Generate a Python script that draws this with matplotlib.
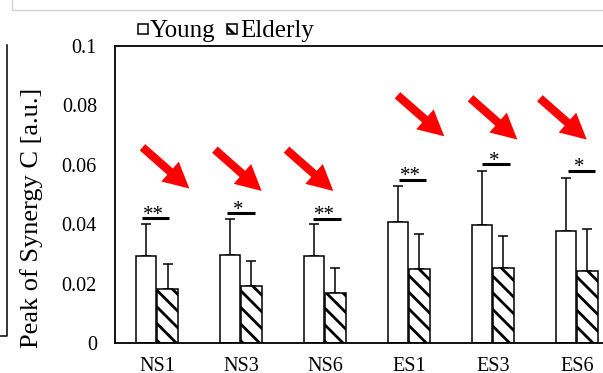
import numpy as np
import matplotlib
matplotlib.use('Agg')
import matplotlib.pyplot as plt
from matplotlib.patches import FancyArrowPatch, Rectangle
from matplotlib.lines import Line2D

plt.rcParams['font.family'] = ['Liberation Serif', 'DejaVu Serif']
plt.rcParams['hatch.linewidth'] = 2.0
plt.rcParams['hatch.color'] = 'black'

# data
conditions = ['NS1', 'NS3', 'NS6', 'ES1', 'ES3', 'ES6']
young = [0.0293, 0.0296, 0.0292, 0.0407, 0.0398, 0.0376]
young_sd = [0.0109, 0.0122, 0.0108, 0.0123, 0.0181, 0.0181]
elderly = [0.0182, 0.0191, 0.0167, 0.0250, 0.0253, 0.0242]
elderly_sd = [0.0084, 0.0086, 0.0084, 0.0117, 0.0107, 0.0141]
sig_marks = ['**', '*', '**', '**', '*', '*']
sig_level = [0.0420, 0.0437, 0.0419, 0.0549, 0.0602, 0.0580]
ytick_vals = [0, 0.02, 0.04, 0.06, 0.08, 0.1]
ytick_labels = ['0', '0.02', '0.04', '0.06', '0.08', '0.1']

# red arrows (tail -> tip), data coords
arrow_tail = [(-0.173, 0.0659), (0.689, 0.0651), (1.542, 0.0651),
              (2.863, 0.0834), (3.732, 0.0824), (4.558, 0.0824)]
arrow_tip = [(0.385, 0.0520), (1.246, 0.0512), (2.099, 0.0512),
             (3.420, 0.0696), (4.290, 0.0685), (5.116, 0.0685)]
sig_shift = [-0.02, -0.002, 0.022, 0.04, 0.034, 0.05]

W, H = 603, 373
fig = plt.figure(figsize=(W / 100, H / 100), dpi=100)
# axes box in pixels: left 115, right 619 (past the edge), top 46, bottom 343
ax = fig.add_axes([115 / W, (H - 343) / H, 504 / W, 297 / H])

x = np.arange(len(conditions))
bw = 0.24
ax.bar(x - 0.13, young, bw, color='white', edgecolor='black', linewidth=1.1,
       label='Young', zorder=2)
ax.bar(x + 0.125, elderly, bw, color='white', edgecolor='black', linewidth=1.1,
       hatch='\\\\', label='Elderly', zorder=2)
ax.errorbar(x - 0.13, young, yerr=[np.zeros(len(x)), young_sd], fmt='none',
            ecolor='black', elinewidth=1.1, capsize=3.8, capthick=1.1, zorder=1)
ax.errorbar(x + 0.125, elderly, yerr=[np.zeros(len(x)), elderly_sd], fmt='none',
            ecolor='black', elinewidth=1.1, capsize=3.8, capthick=1.1, zorder=1)

# significance bars
for i in range(len(x)):
    c = x[i] + sig_shift[i]
    ax.plot([c - 0.163, c + 0.163], [sig_level[i], sig_level[i]],
            color='black', lw=2.2, solid_capstyle='butt', zorder=3)
    ax.text(c - 0.025, sig_level[i] - 0.0005, sig_marks[i], ha='center',
            va='baseline', fontsize=15, zorder=3)

# arrows
for t, h in zip(arrow_tail, arrow_tip):
    ax.add_patch(FancyArrowPatch(t, h, mutation_scale=1, color='red',
                                 shrinkA=0, shrinkB=0, lw=0, zorder=4,
                                 arrowstyle='simple,head_width=19,head_length=18.5,tail_width=6'))

ax.set_xlim(-0.5, 5.5)
ax.set_ylim(0, 0.1)
ax.set_xticks(x)
ax.set_xticklabels(conditions, fontsize=14.5)
ax.set_yticks(ytick_vals)
ax.set_yticklabels(ytick_labels, fontsize=14.5)
ax.tick_params(axis='y', length=0, pad=13)
ax.tick_params(axis='x', length=0, pad=10)
for s in ['left', 'bottom', 'top']:
    ax.spines[s].set_linewidth(1.3)
    ax.spines[s].set_color('black')
ax.spines['right'].set_visible(False)

fig.text(32 / W, (H - 218) / H, 'Peak of Synergy C [a.u.]', rotation=90,
         ha='center', va='center', fontsize=19)

# legend: small squares followed by the labels
fig.add_artist(Rectangle((138 / W, (H - 34) / H), 10 / W, 10 / H,
                         transform=fig.transFigure, facecolor='white',
                         edgecolor='black', lw=1.1))
fig.text(149.5 / W, (H - 37) / H, 'Young', ha='left', va='baseline', fontsize=18)
fig.add_artist(Rectangle((226.5 / W, (H - 34) / H), 10 / W, 10 / H,
                         transform=fig.transFigure, facecolor='white',
                         edgecolor='black', lw=1.1, hatch='\\\\'))
fig.text(240.5 / W, (H - 37) / H, 'Elderly', ha='left', va='baseline', fontsize=18)

# bits of the neighbouring panels at the crop edges
fig.add_artist(Line2D([12 / W, 12 / W, 1], [1, (H - 10) / H, (H - 10) / H],
                      color='#d4d4d4', lw=1))
fig.add_artist(Line2D([7 / W, 7 / W, 0], [(H - 45) / H, (H - 336) / H, (H - 336) / H],
                      color='black', lw=1.1))

fig.savefig('out.png', dpi=100)
